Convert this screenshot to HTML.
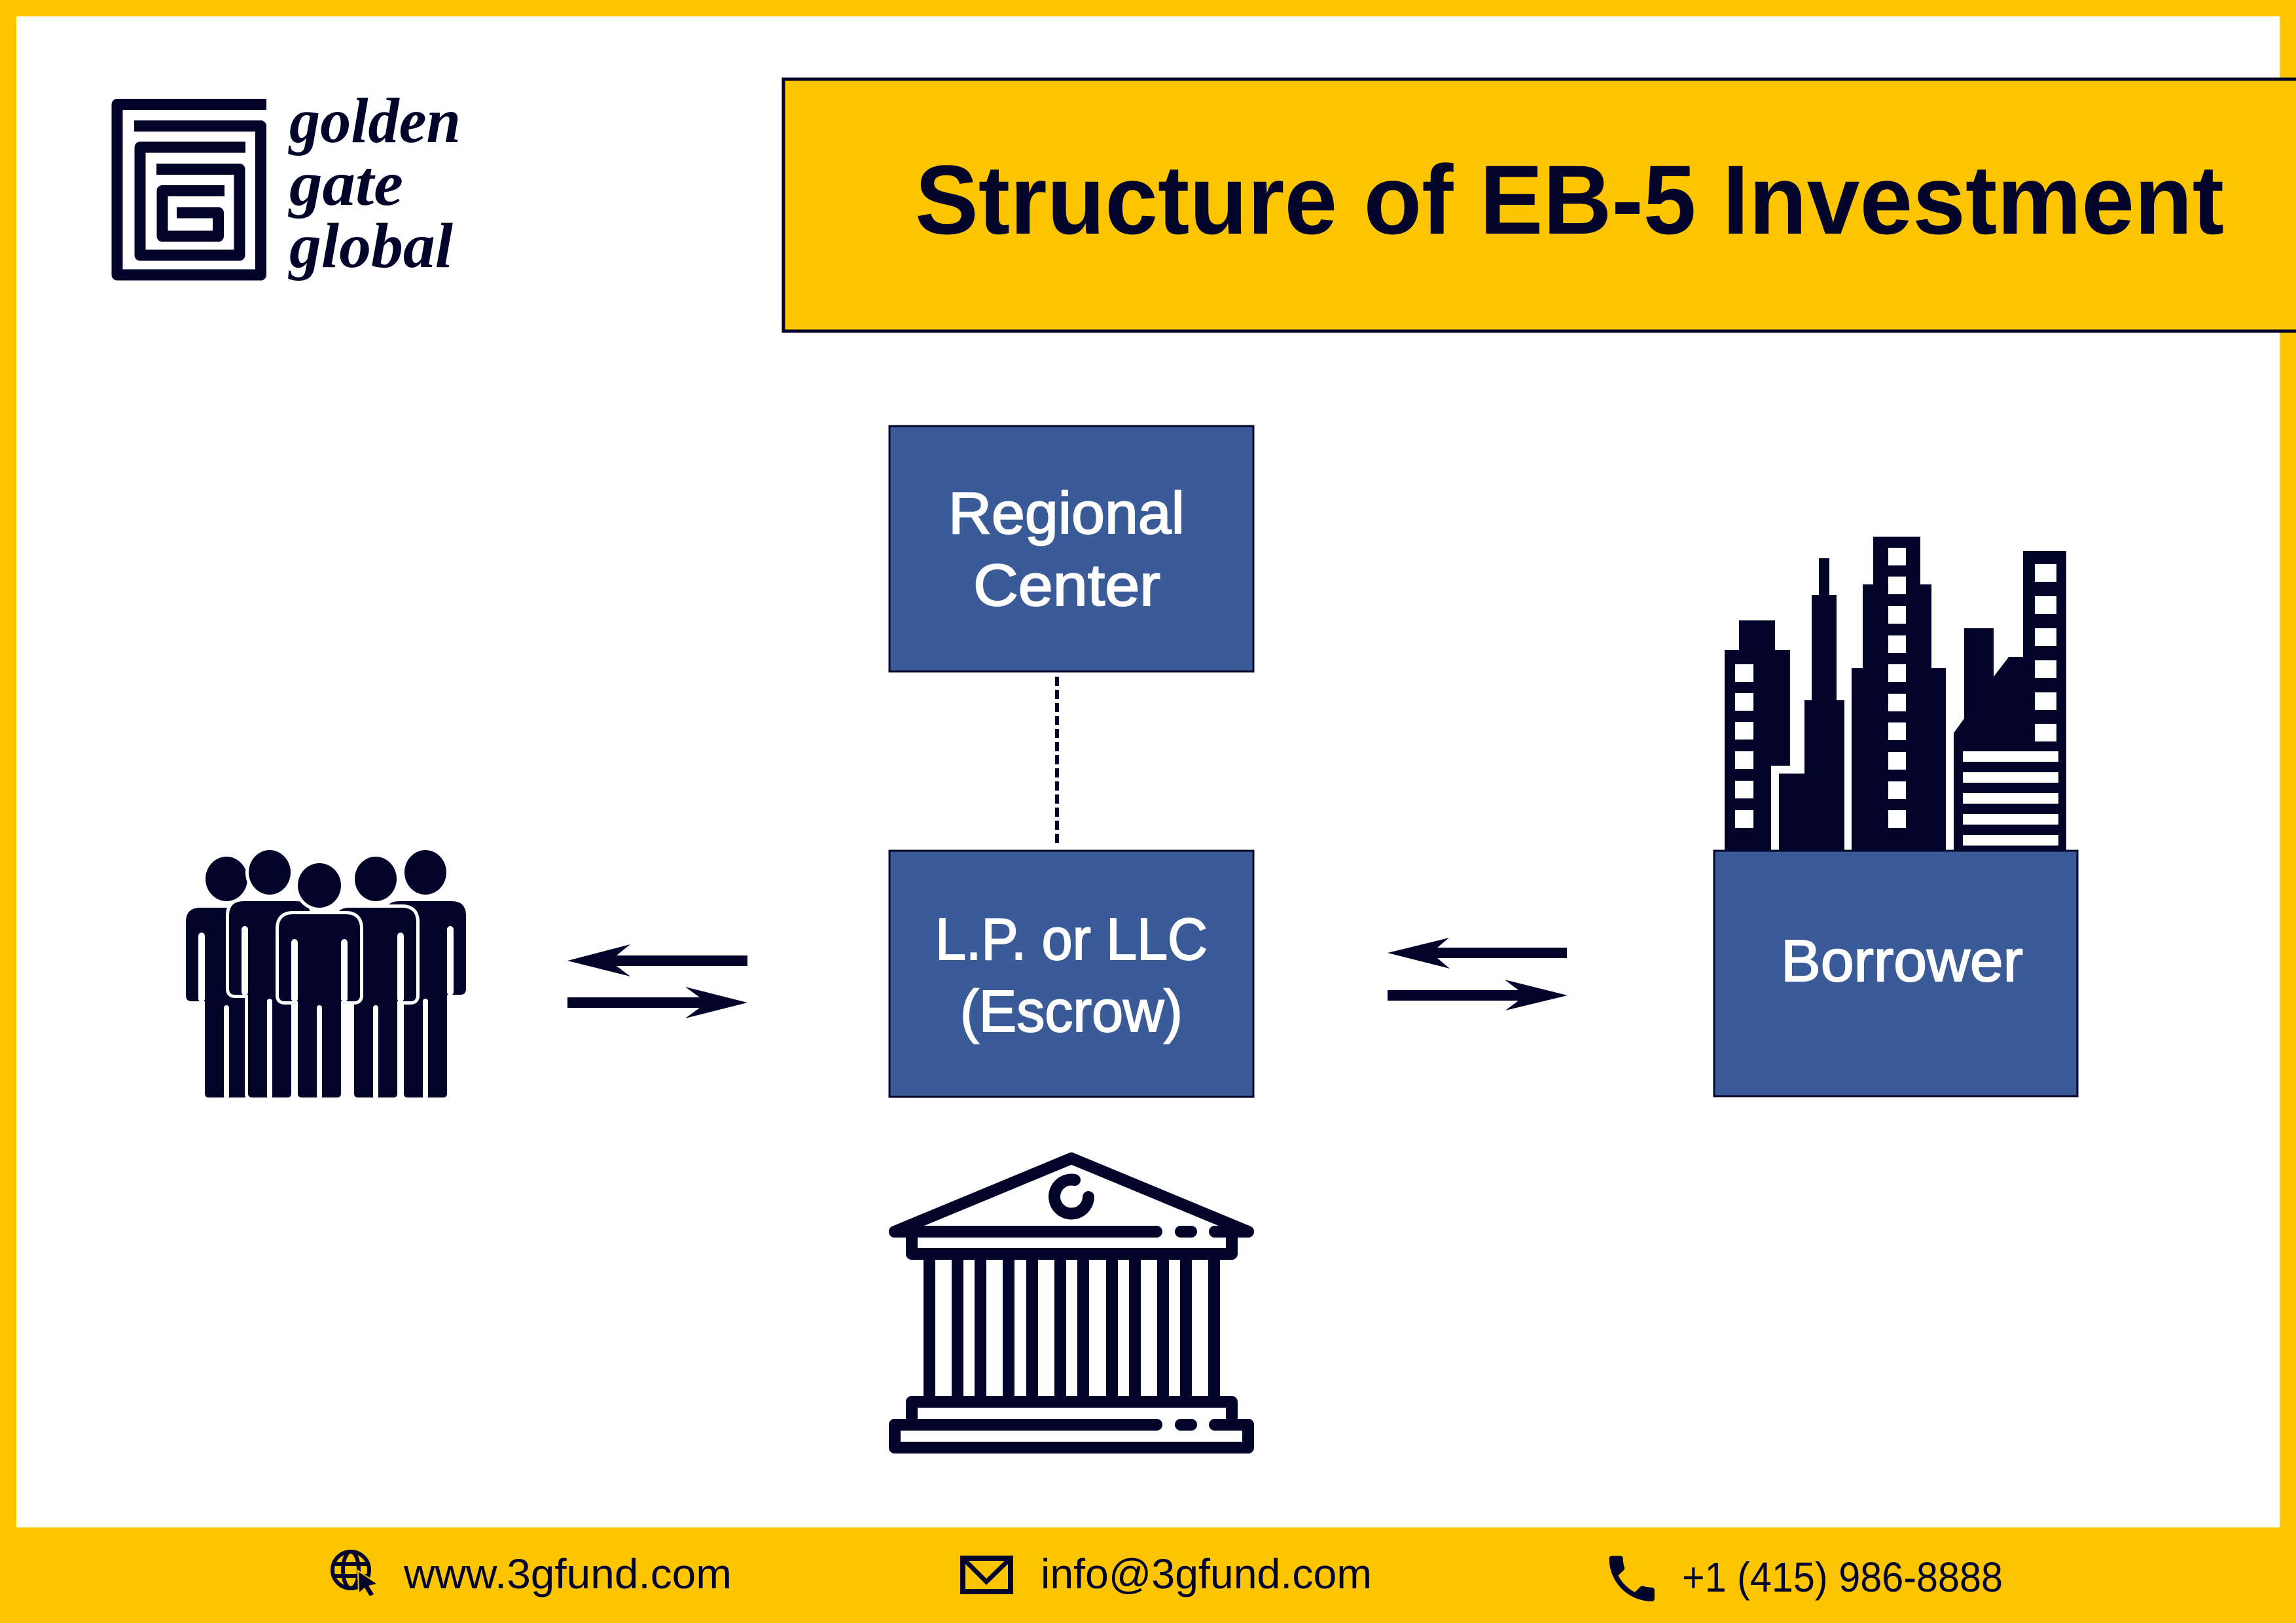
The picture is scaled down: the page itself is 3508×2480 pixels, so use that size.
<!DOCTYPE html>
<html>
<head>
<meta charset="utf-8">
<style>
  html,body{margin:0;padding:0;background:#FDC500;}
  svg{display:block;}
  text{font-family:"Liberation Sans",sans-serif;}
</style>
</head>
<body>
<svg xmlns="http://www.w3.org/2000/svg" width="3508" height="2480" viewBox="0 0 3508 2480">
  <!-- frame -->
  <rect x="0" y="0" width="3508" height="2480" fill="#FDC500"/>
  <rect x="25" y="25" width="3458" height="2309" fill="#FFFFFF"/>

  <!-- logo -->
  <g fill="none" stroke="#03042A" stroke-width="17" stroke-linejoin="round">
    <path d="M407,159.5 H179 V420 H398.5 V192.5 H205"/>
    <path d="M375,225 H214 V390 H366 V258.5 H239"/>
    <path d="M343,291.5 H248 V361 H333.5 V325 H270"/>
  </g>
  <g fill="#03042A" font-weight="bold" font-style="italic" font-size="98">
    <text x="442" y="217" textLength="262" lengthAdjust="spacingAndGlyphs" style="font-family:'Liberation Serif',serif">golden</text>
    <text x="442" y="313" textLength="174" lengthAdjust="spacingAndGlyphs" style="font-family:'Liberation Serif',serif">gate</text>
    <text x="442" y="408" textLength="250" lengthAdjust="spacingAndGlyphs" style="font-family:'Liberation Serif',serif">global</text>
  </g>

  <!-- title box -->
  <rect x="1197" y="121" width="2330" height="385" fill="#FDC500" stroke="#03042A" stroke-width="5"/>
  <text x="1398" y="357" font-size="150" font-weight="bold" fill="#03042A" textLength="2000" lengthAdjust="spacingAndGlyphs">Structure of EB-5 Investment</text>

  <!-- Regional Center box -->
  <rect x="1359" y="651" width="556" height="375" fill="#3A5B97" stroke="#03042A" stroke-width="3"/>
  <g fill="#FFFFFF" stroke="#FFFFFF" stroke-width="2" font-size="90">
    <text x="1449" y="815" textLength="361" lengthAdjust="spacingAndGlyphs">Regional</text>
    <text x="1487" y="925" textLength="286" lengthAdjust="spacingAndGlyphs">Center</text>
  </g>

  <!-- dashed connector -->
  <line x1="1615" y1="1034" x2="1615" y2="1288" stroke="#03042A" stroke-width="6" stroke-dasharray="14 6"/>

  <!-- LP box -->
  <rect x="1359" y="1300" width="556" height="376" fill="#3A5B97" stroke="#03042A" stroke-width="3"/>
  <g fill="#FFFFFF" stroke="#FFFFFF" stroke-width="2" font-size="90">
    <text x="1429" y="1466" textLength="416" lengthAdjust="spacingAndGlyphs">L.P. or LLC</text>
    <text x="1467" y="1576" textLength="340" lengthAdjust="spacingAndGlyphs">(Escrow)</text>
  </g>

  <!-- buildings -->
  <g fill="#03042A">
    <polygon points="2635,1300 2635,993 2657,993 2657,948 2712,948 2712,993 2735,993 2735,1170 2706,1170 2706,1300"/>
    <polygon points="2718,1300 2718,1182 2757,1182 2757,1070 2768,1070 2768,909 2779,909 2779,853 2795,853 2795,909 2806,909 2806,1070 2818,1070 2818,1300"/>
    <polygon points="2829,1300 2829,1021 2846,1021 2846,893 2862,893 2862,820 2934,820 2934,893 2951,893 2951,1021 2973,1021 2973,1300"/>
    <polygon points="2985,1300 2985,1120 3001,1098 3001,960 3046,960 3046,1034 3069,1004 3091,1004 3091,842 3157,842 3157,1300"/>
  </g>
  <g fill="#FFFFFF">
    <rect x="2651" y="1015" width="28" height="27"/>
    <rect x="2651" y="1059" width="28" height="27"/>
    <rect x="2651" y="1103" width="28" height="27"/>
    <rect x="2651" y="1148" width="28" height="27"/>
    <rect x="2651" y="1193" width="28" height="27"/>
    <rect x="2651" y="1238" width="28" height="27"/>

    <rect x="2885" y="837" width="27" height="27"/>
    <rect x="2885" y="881" width="27" height="27"/>
    <rect x="2885" y="926" width="27" height="27"/>
    <rect x="2885" y="971" width="27" height="27"/>
    <rect x="2885" y="1015" width="27" height="27"/>
    <rect x="2885" y="1060" width="27" height="27"/>
    <rect x="2885" y="1104" width="27" height="27"/>
    <rect x="2885" y="1149" width="27" height="27"/>
    <rect x="2885" y="1194" width="27" height="27"/>
    <rect x="2885" y="1238" width="27" height="27"/>

    <rect x="3109" y="862" width="33" height="27"/>
    <rect x="3109" y="911" width="33" height="27"/>
    <rect x="3109" y="960" width="33" height="27"/>
    <rect x="3109" y="1009" width="33" height="27"/>
    <rect x="3109" y="1058" width="33" height="27"/>
    <rect x="3109" y="1106" width="33" height="27"/>

    <rect x="2999" y="1148" width="146" height="16"/>
    <rect x="2999" y="1180" width="146" height="16"/>
    <rect x="2999" y="1212" width="146" height="16"/>
    <rect x="2999" y="1244" width="146" height="16"/>
    <rect x="2999" y="1276" width="146" height="16"/>
  </g>

  <!-- Borrower box -->
  <rect x="2619" y="1300" width="555" height="375" fill="#3A5B97" stroke="#03042A" stroke-width="3"/>
  <text x="2721" y="1499" font-size="90" fill="#FFFFFF" stroke="#FFFFFF" stroke-width="2" textLength="370" lengthAdjust="spacingAndGlyphs">Borrower</text>

  <!-- arrows -->
  <g fill="#03042A">
    <polygon points="867,1468 963,1443 942,1460 1142,1460 1142,1476 942,1476 963,1492"/>
    <polygon points="867,1524 1069,1524 1047,1508 1142,1532 1047,1556 1069,1540 867,1540"/>
    <polygon points="2120,1456 2214,1433 2196,1448 2394,1448 2394,1464 2196,1464 2215,1480"/>
    <polygon points="2120,1513 2320,1513 2299,1497 2395,1521 2300,1544 2320,1529 2120,1529"/>
  </g>

  <!-- people -->
  <g fill="#03042A" stroke="#FFFFFF" stroke-width="10" style="paint-order:stroke">
    <path d="M284,1409 Q284,1387 306,1387 H386 Q408,1387 408,1409 V1521 Q408,1530 399,1530 H379 V1671 Q379,1677 373,1677 H319 Q313,1677 313,1671 V1530 H293 Q284,1530 284,1521 Z"/>
    <ellipse cx="346" cy="1343" rx="32" ry="34"/>
  </g>
  <g fill="#FFFFFF">
    <rect x="303" y="1425" width="10" height="106" rx="5"/>
    <rect x="379" y="1425" width="10" height="106" rx="5"/>
    <rect x="342" y="1536" width="8" height="143" rx="4"/>
  </g>
  <g fill="#03042A" stroke="#FFFFFF" stroke-width="10" style="paint-order:stroke">
    <path d="M588,1399 Q588,1377 610,1377 H690 Q712,1377 712,1399 V1511 Q712,1520 703,1520 H683 V1671 Q683,1677 677,1677 H623 Q617,1677 617,1671 V1520 H597 Q588,1520 588,1511 Z"/>
    <ellipse cx="650" cy="1333" rx="32" ry="34"/>
  </g>
  <g fill="#FFFFFF">
    <rect x="607" y="1415" width="10" height="106" rx="5"/>
    <rect x="683" y="1415" width="10" height="106" rx="5"/>
    <rect x="646" y="1526" width="8" height="153" rx="4"/>
  </g>
  <g fill="#03042A" stroke="#FFFFFF" stroke-width="10" style="paint-order:stroke">
    <path d="M350,1399 Q350,1377 372,1377 H452 Q474,1377 474,1399 V1511 Q474,1520 465,1520 H445 V1671 Q445,1677 439,1677 H385 Q379,1677 379,1671 V1520 H359 Q350,1520 350,1511 Z"/>
    <ellipse cx="412" cy="1333" rx="32" ry="34"/>
  </g>
  <g fill="#FFFFFF">
    <rect x="369" y="1415" width="10" height="106" rx="5"/>
    <rect x="445" y="1415" width="10" height="106" rx="5"/>
    <rect x="408" y="1526" width="8" height="153" rx="4"/>
  </g>
  <g fill="#03042A" stroke="#FFFFFF" stroke-width="10" style="paint-order:stroke">
    <path d="M512,1409 Q512,1387 534,1387 H614 Q636,1387 636,1409 V1521 Q636,1530 627,1530 H607 V1671 Q607,1677 601,1677 H547 Q541,1677 541,1671 V1530 H521 Q512,1530 512,1521 Z"/>
    <ellipse cx="574" cy="1343" rx="32" ry="34"/>
  </g>
  <g fill="#FFFFFF">
    <rect x="531" y="1425" width="10" height="106" rx="5"/>
    <rect x="607" y="1425" width="10" height="106" rx="5"/>
    <rect x="570" y="1536" width="8" height="143" rx="4"/>
  </g>
  <g fill="#03042A" stroke="#FFFFFF" stroke-width="10" style="paint-order:stroke">
    <path d="M426,1419 Q426,1397 448,1397 H528 Q550,1397 550,1419 V1521 Q550,1530 541,1530 H521 V1671 Q521,1677 515,1677 H461 Q455,1677 455,1671 V1530 H435 Q426,1530 426,1521 Z"/>
    <ellipse cx="488" cy="1353" rx="33" ry="34"/>
  </g>
  <g fill="#FFFFFF">
    <rect x="445" y="1435" width="10" height="96" rx="5"/>
    <rect x="521" y="1435" width="10" height="96" rx="5"/>
    <rect x="484" y="1536" width="8" height="143" rx="4"/>
  </g>

  <!-- bank -->
  <g fill="none" stroke="#03042A" stroke-width="18" stroke-linecap="round" stroke-linejoin="round">
    <path d="M1367,1882 L1637,1770 L1907,1882"/>
    <path d="M1367,1882 H1767"/>
    <path d="M1804,1882 H1820"/>
    <path d="M1856,1882 H1907"/>
    <path d="M1393,1882 V1916 H1882 V1882"/>
    <path d="M1642,1803 A26,26 0 1 0 1663,1829"/>
    <path d="M1393,2177 V2142 H1882 V2177"/>
    <path d="M1367,2177 H1767"/>
    <path d="M1804,2177 H1820"/>
    <path d="M1856,2177 H1907"/>
    <path d="M1367,2177 V2212 H1907 V2177"/>
  </g>
  <g fill="#03042A">
    <rect x="1411" y="1920" width="18" height="218"/>
    <rect x="1454" y="1920" width="18" height="218"/>
    <rect x="1489" y="1920" width="18" height="218"/>
    <rect x="1532" y="1920" width="18" height="218"/>
    <rect x="1568" y="1920" width="18" height="218"/>
    <rect x="1611" y="1920" width="18" height="218"/>
    <rect x="1646" y="1920" width="18" height="218"/>
    <rect x="1690" y="1920" width="18" height="218"/>
    <rect x="1725" y="1920" width="18" height="218"/>
    <rect x="1768" y="1920" width="18" height="218"/>
    <rect x="1803" y="1920" width="18" height="218"/>
    <rect x="1846" y="1920" width="18" height="218"/>
  </g>

  <!-- footer -->
  <g fill="none" stroke="#03042A" stroke-width="6">
    <circle cx="536" cy="2399" r="28"/>
    <ellipse cx="536" cy="2399" rx="12" ry="28"/>
    <line x1="509" y1="2390" x2="563" y2="2390"/>
    <line x1="509" y1="2408" x2="563" y2="2408"/>
  </g>
  <polygon points="548,2402 575,2420 563,2423 571,2436 565,2439 557,2426 549,2433" fill="#03042A" stroke="#FDC500" stroke-width="4" style="paint-order:stroke"/>
  <text x="617" y="2427" font-size="64" fill="#03042A" textLength="501" lengthAdjust="spacingAndGlyphs">www.3gfund.com</text>

  <rect x="1471" y="2381" width="73" height="51" fill="none" stroke="#03042A" stroke-width="8"/>
  <polyline points="1473,2383 1507,2417 1542,2383" fill="none" stroke="#03042A" stroke-width="7"/>
  <text x="1590" y="2427" font-size="64" fill="#03042A" textLength="506" lengthAdjust="spacingAndGlyphs">info@3gfund.com</text>

  <g transform="translate(2447,2366) scale(3.85)">
    <path fill="#03042A" d="M6.62 10.79c1.44 2.83 3.76 5.14 6.59 6.59l2.2-2.2c.27-.27.67-.36 1.02-.24 1.12.37 2.330.57 3.57.57.55 0 1 .45 1 1V20c0 .55-.45 1-1 1-9.39 0-17-7.61-17-17 0-.55.45-1 1-1h3.5c.55 0 1 .45 1 1 0 1.250.2 2.45.57 3.57.11.35.03.74-.25 1.02l-2.2 2.2z"/>
  </g>
  <text x="2570" y="2432" font-size="64" fill="#03042A" textLength="490" lengthAdjust="spacingAndGlyphs">+1 (415) 986-8888</text>
</svg>
</body>
</html>
